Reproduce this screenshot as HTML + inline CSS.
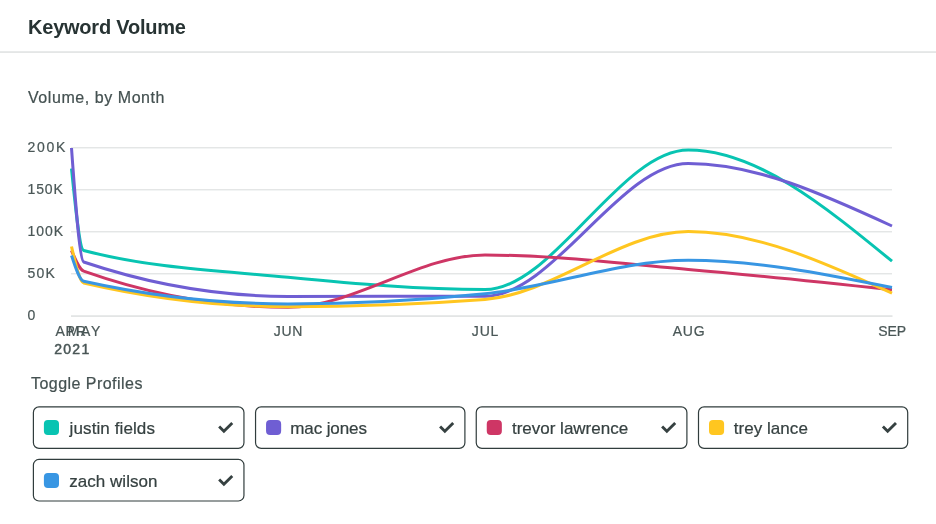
<!DOCTYPE html>
<html><head><meta charset="utf-8"><title>Keyword Volume</title>
<style>
html,body{margin:0;padding:0;background:#fff;}
body{width:936px;height:524px;position:relative;overflow:hidden;font-family:"Liberation Sans",sans-serif;color:#273333;}
.txt{position:absolute;left:0;top:0;width:936px;height:524px;will-change:transform;z-index:5;}
.sub,.tog,.yl,.xl,.nm{-webkit-text-stroke:0.22px currentColor;}
.hl1{position:absolute;left:0;top:51px;width:936px;height:1px;background:#e8eaea;}
.hl2{position:absolute;left:0;top:52px;width:936px;height:1px;background:#e4e6e6;}
.title{position:absolute;left:28px;top:15px;font-size:20px;font-weight:bold;line-height:24px;letter-spacing:-0.22px;color:#273333;white-space:nowrap;}
.sub{position:absolute;left:28px;top:88px;font-size:16px;line-height:20px;letter-spacing:0.56px;color:#445151;white-space:nowrap;}
.yl{position:absolute;left:27.5px;font-size:14px;line-height:16px;letter-spacing:1.7px;color:#4a5757;white-space:nowrap;}
.xl{position:absolute;top:323px;width:60px;text-align:center;font-size:14px;line-height:16px;letter-spacing:0.8px;color:#4a5757;white-space:nowrap;}
.yr{position:absolute;left:54.3px;top:341px;font-size:14px;line-height:16px;letter-spacing:1.25px;font-weight:normal;-webkit-text-stroke:0.5px #4a5757;color:#4a5757;white-space:nowrap;}
svg.chart{position:absolute;left:0;top:0;}
svg.chart path{fill:none;stroke-width:3;stroke-linejoin:round;}
svg.btns{position:absolute;left:0;top:395px;}
.tog{position:absolute;left:31px;top:374px;font-size:16px;line-height:20px;letter-spacing:0.46px;color:#445151;white-space:nowrap;}
.nm{position:absolute;font-size:17px;line-height:22px;letter-spacing:0.1px;color:#364141;white-space:nowrap;}
</style></head><body>
<div class="hl1"></div><div class="hl2"></div>
<div class="txt">
<div class="title">Keyword Volume</div>
<div class="sub">Volume, by Month</div>
<div class="yl" style="top:139px;letter-spacing:1.70px">200K</div>
<div class="yl" style="top:181px;letter-spacing:0.85px">150K</div>
<div class="yl" style="top:223px;letter-spacing:0.95px">100K</div>
<div class="yl" style="top:265px;letter-spacing:1.20px">50K</div>
<div class="yl" style="top:307px;letter-spacing:0.00px">0</div>

<div class="xl" style="left:41.00px;letter-spacing:0.80px">APR</div>
<div class="xl" style="left:54.90px;letter-spacing:1.60px">MAY</div>
<div class="xl" style="left:258.45px;letter-spacing:0.80px">JUN</div>
<div class="xl" style="left:455.50px;letter-spacing:0.80px">JUL</div>
<div class="xl" style="left:659.00px;letter-spacing:0.80px">AUG</div>
<div class="xl" style="left:862.20px;letter-spacing:-0.10px">SEP</div>

<div class="yr">2021</div>
<div class="tog">Toggle Profiles</div>
<div class="nm" style="left:69.60px;top:417.50px;letter-spacing:0.10px">justin fields</div>
<div class="nm" style="left:290.25px;top:417.50px;letter-spacing:-0.10px">mac jones</div>
<div class="nm" style="left:511.95px;top:417.50px;letter-spacing:0.00px">trevor lawrence</div>
<div class="nm" style="left:733.70px;top:417.50px;letter-spacing:0.05px">trey lance</div>
<div class="nm" style="left:69.35px;top:470.65px;letter-spacing:0.02px">zach wilson</div>

</div>
<svg class="chart" width="936" height="370" viewBox="0 0 936 370">
<rect x="71" y="147" width="821" height="1" fill="#e4e6e6"/><rect x="71" y="148" width="821" height="1" fill="#f2f4f4"/>
<rect x="71" y="189" width="821" height="1" fill="#e4e6e6"/><rect x="71" y="190" width="821" height="1" fill="#f2f4f4"/>
<rect x="71" y="231" width="821" height="1" fill="#e4e6e6"/><rect x="71" y="232" width="821" height="1" fill="#f2f4f4"/>
<rect x="71" y="273" width="821" height="1" fill="#e4e6e6"/><rect x="71" y="274" width="821" height="1" fill="#f2f4f4"/>
<rect x="71" y="315" width="821.5" height="1" fill="#e8eaea"/><rect x="71" y="316" width="821.5" height="1" fill="#e3e5e5"/>

<path d="M71.50,168.50C75.57,208.97,79.63,249.43,83.70,250.50C151.80,268.37,219.90,270.75,288.00,277.30C353.67,283.62,419.33,289.60,485.00,289.60C552.77,289.60,620.53,150.00,688.30,150.00C756.20,150.00,824.10,205.60,892.00,261.20" stroke="#08c4b2"/>
<path d="M71.50,148.00C75.57,204.32,79.63,260.63,83.70,262.00C151.80,284.93,219.90,296.40,288.00,296.40C353.67,296.40,419.33,296.33,485.00,296.20C552.77,296.06,620.53,163.50,688.30,163.50C756.20,163.50,824.10,194.75,892.00,226.00" stroke="#6f5ed3"/>
<path d="M71.50,250.50C75.57,260.13,79.63,269.76,83.70,271.20C151.80,295.27,219.90,307.30,288.00,307.30C353.67,307.30,419.33,255.00,485.00,255.00C552.77,255.00,620.53,263.61,688.30,269.40C756.20,275.20,824.10,282.50,892.00,289.80" stroke="#ce3665"/>
<path d="M71.50,246.50C75.57,264.28,79.63,282.06,83.70,283.00C151.80,298.80,219.90,306.70,288.00,306.70C353.67,306.70,419.33,304.27,485.00,299.40C552.77,294.38,620.53,231.60,688.30,231.60C756.20,231.60,824.10,262.40,892.00,293.20" stroke="#ffc620"/>
<path d="M71.50,255.50C75.57,267.90,79.63,280.30,83.70,281.20C151.80,296.33,219.90,303.90,288.00,303.90C353.67,303.90,419.33,300.53,485.00,293.80C552.77,286.85,620.53,260.20,688.30,260.20C756.20,260.20,824.10,273.85,892.00,287.50" stroke="#3896e3"/>

</svg>
<svg class="btns" width="936" height="129" viewBox="0 395 936 129">
<rect x="33.40" y="406.90" width="210.55" height="41.50" rx="5.6" ry="5.6" fill="#fff" stroke="#313d3d" stroke-width="1.2"/>
<rect x="43.90" y="419.90" width="15.1" height="15.1" rx="4" ry="4" fill="#08c4b2"/>
<path d="M219.15 426.55 L223.90 431.30 L232.25 422.95" fill="none" stroke="#364141" stroke-width="2.85" stroke-linejoin="miter"/>
<rect x="255.55" y="406.90" width="209.35" height="41.50" rx="5.6" ry="5.6" fill="#fff" stroke="#313d3d" stroke-width="1.2"/>
<rect x="266.05" y="419.90" width="15.1" height="15.1" rx="4" ry="4" fill="#6f5ed3"/>
<path d="M440.10 426.55 L444.85 431.30 L453.20 422.95" fill="none" stroke="#364141" stroke-width="2.85" stroke-linejoin="miter"/>
<rect x="476.25" y="406.90" width="210.65" height="41.50" rx="5.6" ry="5.6" fill="#fff" stroke="#313d3d" stroke-width="1.2"/>
<rect x="486.75" y="419.90" width="15.1" height="15.1" rx="4" ry="4" fill="#ce3665"/>
<path d="M662.10 426.55 L666.85 431.30 L675.20 422.95" fill="none" stroke="#364141" stroke-width="2.85" stroke-linejoin="miter"/>
<rect x="698.50" y="406.90" width="209.20" height="41.50" rx="5.6" ry="5.6" fill="#fff" stroke="#313d3d" stroke-width="1.2"/>
<rect x="709.00" y="419.90" width="15.1" height="15.1" rx="4" ry="4" fill="#ffc620"/>
<path d="M882.90 426.55 L887.65 431.30 L896.00 422.95" fill="none" stroke="#364141" stroke-width="2.85" stroke-linejoin="miter"/>
<rect x="33.40" y="459.45" width="210.55" height="41.55" rx="5.6" ry="5.6" fill="#fff" stroke="#313d3d" stroke-width="1.2"/>
<rect x="43.90" y="472.90" width="15.1" height="15.1" rx="4" ry="4" fill="#3896e3"/>
<path d="M219.15 479.55 L223.90 484.30 L232.25 475.95" fill="none" stroke="#364141" stroke-width="2.85" stroke-linejoin="miter"/>

</svg>
</body></html>
